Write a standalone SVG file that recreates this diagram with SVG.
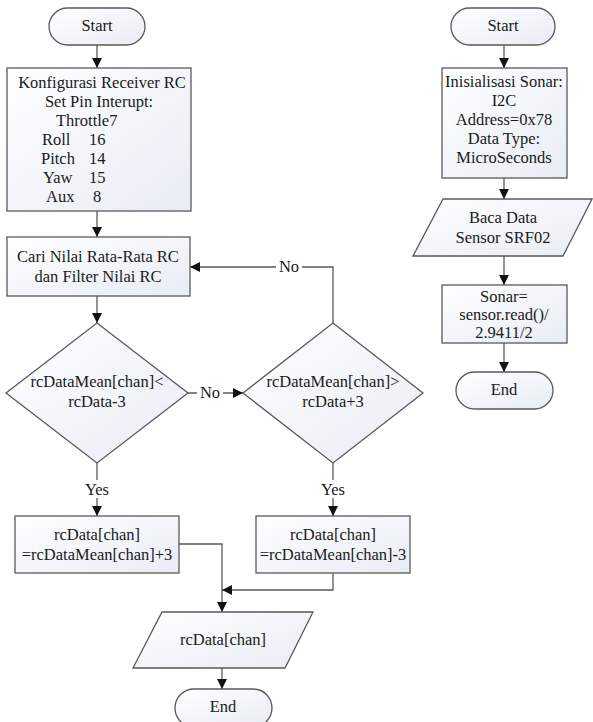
<svg xmlns="http://www.w3.org/2000/svg" width="593" height="722" viewBox="0 0 593 722">
<style>
.s{fill:url(#g);stroke:#5a5a5a;stroke-width:1.3}
.c{fill:none;stroke:#5a5a5a;stroke-width:1.3}
text{font-family:"Liberation Serif","Tinos","DejaVu Serif",serif;font-size:16.5px;fill:#1a1a1a}
.m{text-anchor:middle}
.lb{fill:#fff;stroke:none}
</style>
<defs>
<linearGradient id="g" x1="0" y1="0" x2="1" y2="1">
<stop offset="0" stop-color="#ffffff"/>
<stop offset="1" stop-color="#e8ecf5"/>
</linearGradient>
<marker id="a" viewBox="0 0 10 10" refX="10" refY="5" markerWidth="10" markerHeight="10" markerUnits="userSpaceOnUse" orient="auto">
<path d="M0,0 L10,5 L0,10 z" fill="#111"/>
</marker>
</defs>
<rect width="593" height="722" fill="#fff"/>

<g id="connectors">
<line class="c" x1="97" y1="45" x2="97" y2="68" marker-end="url(#a)"/>
<line class="c" x1="97" y1="211" x2="97" y2="237" marker-end="url(#a)"/>
<line class="c" x1="97" y1="296" x2="97" y2="323" marker-end="url(#a)"/>
<line class="c" x1="188" y1="393" x2="243" y2="393" marker-end="url(#a)"/>
<polyline class="c" points="333,323 333,267 190,267" marker-end="url(#a)"/>
<line class="c" x1="97" y1="463" x2="97" y2="516" marker-end="url(#a)"/>
<line class="c" x1="333" y1="463" x2="333" y2="516" marker-end="url(#a)"/>
<polyline class="c" points="179,544 222,544 222,612" marker-end="url(#a)"/>
<polyline class="c" points="333,573 333,590 222,590" marker-end="url(#a)"/>
<line class="c" x1="222" y1="668" x2="222" y2="689" marker-end="url(#a)"/>
<line class="c" x1="504" y1="45" x2="504" y2="68" marker-end="url(#a)"/>
<line class="c" x1="504" y1="178" x2="504" y2="199" marker-end="url(#a)"/>
<line class="c" x1="504" y1="256" x2="504" y2="285" marker-end="url(#a)"/>
<line class="c" x1="504" y1="343" x2="504" y2="372" marker-end="url(#a)"/>
<rect class="lb" x="197" y="384" width="26" height="18"/>
<text class="m" x="210" y="398">No</text>
<rect class="lb" x="276" y="258" width="26" height="18"/>
<text class="m" x="289" y="272">No</text>
<rect class="lb" x="82" y="480" width="30" height="18"/>
<text class="m" x="97" y="495">Yes</text>
<rect class="lb" x="318" y="480" width="30" height="18"/>
<text class="m" x="333" y="495">Yes</text>
</g>

<g id="start1">
<rect class="s" x="49" y="8" width="96" height="37" rx="18.5"/>
<text class="m" x="97" y="31">Start</text>
</g>
<g id="config">
<rect class="s" x="7" y="68" width="184" height="143"/>
<text class="m" x="102" y="88">Konfigurasi Receiver RC</text>
<text class="m" x="99" y="107">Set Pin Interupt:</text>
<text x="56" y="126">Throttle<tspan>7</tspan></text>
<text x="42" y="145">Roll</text><text x="89" y="145">16</text>
<text x="41" y="164">Pitch</text><text x="89" y="164">14</text>
<text x="43" y="183">Yaw</text><text x="89" y="183">15</text>
<text x="46" y="202">Aux</text><text x="93" y="202">8</text>
</g>
<g id="cari">
<rect class="s" x="7" y="237" width="183" height="59"/>
<text class="m" x="98" y="262">Cari Nilai Rata-Rata RC</text>
<text class="m" x="98" y="282">dan Filter Nilai RC</text>
</g>
<g id="dec1">
<polygon class="s" points="97,323 188,393 97,463 6,393"/>
<text class="m" x="97" y="387">rcDataMean[chan]&lt;</text>
<text class="m" x="97" y="407">rcData-3</text>
</g>
<g id="dec2">
<polygon class="s" points="333,323 423,393 333,463 243,393"/>
<text class="m" x="333" y="387">rcDataMean[chan]&gt;</text>
<text class="m" x="333" y="407">rcData+3</text>
</g>
<g id="plus">
<rect class="s" x="15" y="516" width="164" height="57"/>
<text class="m" x="97" y="540">rcData[chan]</text>
<text class="m" x="97" y="560">=rcDataMean[chan]+3</text>
</g>
<g id="minus">
<rect class="s" x="256" y="516" width="154" height="57"/>
<text class="m" x="333" y="540">rcData[chan]</text>
<text class="m" x="333" y="560">=rcDataMean[chan]-3</text>
</g>
<g id="out">
<polygon class="s" points="162,612 313,612 285,668 133,668"/>
<text class="m" x="223" y="645">rcData[chan]</text>
</g>
<g id="end1">
<rect class="s" x="175" y="689" width="97" height="38" rx="19"/>
<text class="m" x="223" y="712">End</text>
</g>

<g id="start2">
<rect class="s" x="451" y="8" width="104" height="37" rx="18.5"/>
<text class="m" x="503" y="31">Start</text>
</g>
<g id="init">
<rect class="s" x="442" y="68" width="125" height="110"/>
<text class="m" x="504" y="87">Inisialisasi Sonar:</text>
<text class="m" x="504" y="106">I2C</text>
<text class="m" x="504" y="125">Address=0x78</text>
<text class="m" x="504" y="144">Data Type:</text>
<text class="m" x="504" y="163">MicroSeconds</text>
</g>
<g id="baca">
<polygon class="s" points="443,199 592,199 563,256 413,256"/>
<text class="m" x="503" y="223">Baca Data</text>
<text class="m" x="503" y="243">Sensor SRF02</text>
</g>
<g id="sonar">
<rect class="s" x="442" y="285" width="125" height="58"/>
<text class="m" x="504" y="302">Sonar=</text>
<text class="m" x="504" y="320">sensor.read()/</text>
<text class="m" x="504" y="338">2.9411/2</text>
</g>
<g id="end2">
<rect class="s" x="456" y="372" width="97" height="37" rx="18.5"/>
<text class="m" x="504" y="395">End</text>
</g>
</svg>
